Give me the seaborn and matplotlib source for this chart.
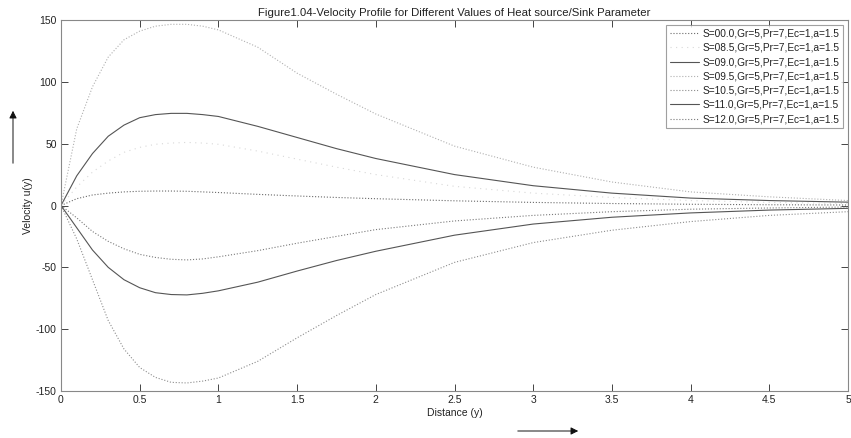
import numpy as np
import pandas as pd
import matplotlib
matplotlib.use('Agg')
import matplotlib.pyplot as plt
import seaborn as sns

distance = [0, 0.1, 0.2, 0.3, 0.4, 0.5, 0.6, 0.7, 0.8, 0.9, 1.0, 1.25, 1.5,
            1.75, 2.0, 2.5, 3.0, 3.5, 4.0, 4.5, 5.0]

# Velocity profiles for each heat source/sink parameter S
u_s00 = [0, 5.5, 8.5, 10, 11, 11.5, 11.7, 11.7, 11.5, 11, 10.5, 9, 7.7, 6.5,
         5.5, 3.8, 2.5, 1.6, 1.0, 0.6, 0.4]
u_s085 = [0, 15, 27, 36, 43, 47, 49.5, 50.5, 51, 50.5, 49.5, 44, 37.5, 31,
          25, 15.5, 10, 6.5, 4, 2.5, 1.6]
u_s09 = [0, 24, 42, 56, 65, 71, 73.5, 74.5, 74.5, 73.5, 72, 64, 55, 46, 38,
         25, 16, 10, 6, 4, 2.7]
u_s095 = [0, 62, 96, 120, 134, 141, 145, 146.5, 146.5, 145, 142, 128, 107,
          90, 74, 48, 31, 19, 11, 7, 4]
u_s105 = [0, -27, -60, -93, -116, -131, -139, -143, -143.5, -142, -139.5,
          -126, -107, -89, -72, -46, -30, -20, -13, -8, -5]
u_s11 = [0, -18, -36, -50, -60, -66.5, -70.5, -72, -72.3, -71, -69, -62, -53,
         -44.5, -37, -24, -15, -9.5, -6, -3.7, -2.3]
u_s12 = [0, -10, -21, -29, -35, -39.5, -42, -43.5, -44, -43.2, -41.5, -36.5,
         -30.5, -25, -19.5, -12.5, -8, -5, -3, -2, -1.2]

labels = ['S=00.0,Gr=5,Pr=7,Ec=1,a=1.5', 'S=08.5,Gr=5,Pr=7,Ec=1,a=1.5',
          'S=09.0,Gr=5,Pr=7,Ec=1,a=1.5', 'S=09.5,Gr=5,Pr=7,Ec=1,a=1.5',
          'S=10.5,Gr=5,Pr=7,Ec=1,a=1.5', 'S=11.0,Gr=5,Pr=7,Ec=1,a=1.5',
          'S=12.0,Gr=5,Pr=7,Ec=1,a=1.5']
profiles = [u_s00, u_s085, u_s09, u_s095, u_s105, u_s11, u_s12]

colors = ['#6a6a6a', '#d8d8d8', '#555555', '#b0b0b0', '#8c8c8c', '#555555', '#7a7a7a']
styles = [':', (0, (1, 4)), '-', ':', ':', '-', ':']

sns.set_style('white')
plt.rcParams['font.family'] = ['Liberation Sans', 'DejaVu Sans']
plt.rcParams['axes.unicode_minus'] = False

fig = plt.figure(figsize=(8.51, 4.38), dpi=100)
ax = fig.add_axes([61 / 851, 47 / 438, 787 / 851, 371 / 438])

for lab, u, c, ls in zip(labels, profiles, colors, styles):
    df = pd.DataFrame({'y': distance, 'u': u})
    sns.lineplot(data=df, x='y', y='u', ax=ax, color=c, linestyle=ls,
                 linewidth=0.8, label=lab)

ax.set_xlim(0, 5)
ax.set_ylim(-150, 150)
ax.set_xticks(np.arange(0, 5.01, 0.5))
ax.set_xticklabels(['0', '0.5', '1', '1.5', '2', '2.5', '3', '3.5', '4', '4.5', '5'])
ax.set_yticks(np.arange(-150, 151, 50))
ax.tick_params(direction='in', length=5, width=0.7, colors='#444444',
               labelsize=7.5, labelcolor='#222222', top=True, right=True,
               bottom=True, left=True, pad=3)
for sp in ax.spines.values():
    sp.set_color('#888888')
    sp.set_linewidth(0.8)

ax.set_title('Figure1.04-Velocity Profile for Different Values of Heat source/Sink Parameter',
             fontsize=8.2, color='#222222', pad=3)
ax.set_xlabel('Distance (y)', fontsize=7.5, color='#222222', labelpad=2)
ax.set_ylabel('Velocity u(y)', fontsize=7.5, color='#222222', labelpad=2)

leg = ax.legend(loc='upper right', fontsize=7.3, frameon=True, fancybox=False,
                handlelength=2.8, handletextpad=0.35, borderpad=0.4,
                labelspacing=0.42, borderaxespad=0.45)
leg.get_frame().set_edgecolor('#888888')
leg.get_frame().set_linewidth(0.8)
for t in leg.get_texts():
    t.set_color('#222222')

# direction arrows outside the axes
ax.annotate('', xy=(13, 330), xytext=(13, 272), xycoords='figure pixels',
            textcoords='figure pixels',
            arrowprops=dict(arrowstyle='-|>', color='#111111', lw=0.7,
                            mutation_scale=11))
ax.annotate('', xy=(581, 7), xytext=(515, 7), xycoords='figure pixels',
            textcoords='figure pixels',
            arrowprops=dict(arrowstyle='-|>', color='#111111', lw=0.7,
                            mutation_scale=11))

fig.savefig('out.png', dpi=100)
